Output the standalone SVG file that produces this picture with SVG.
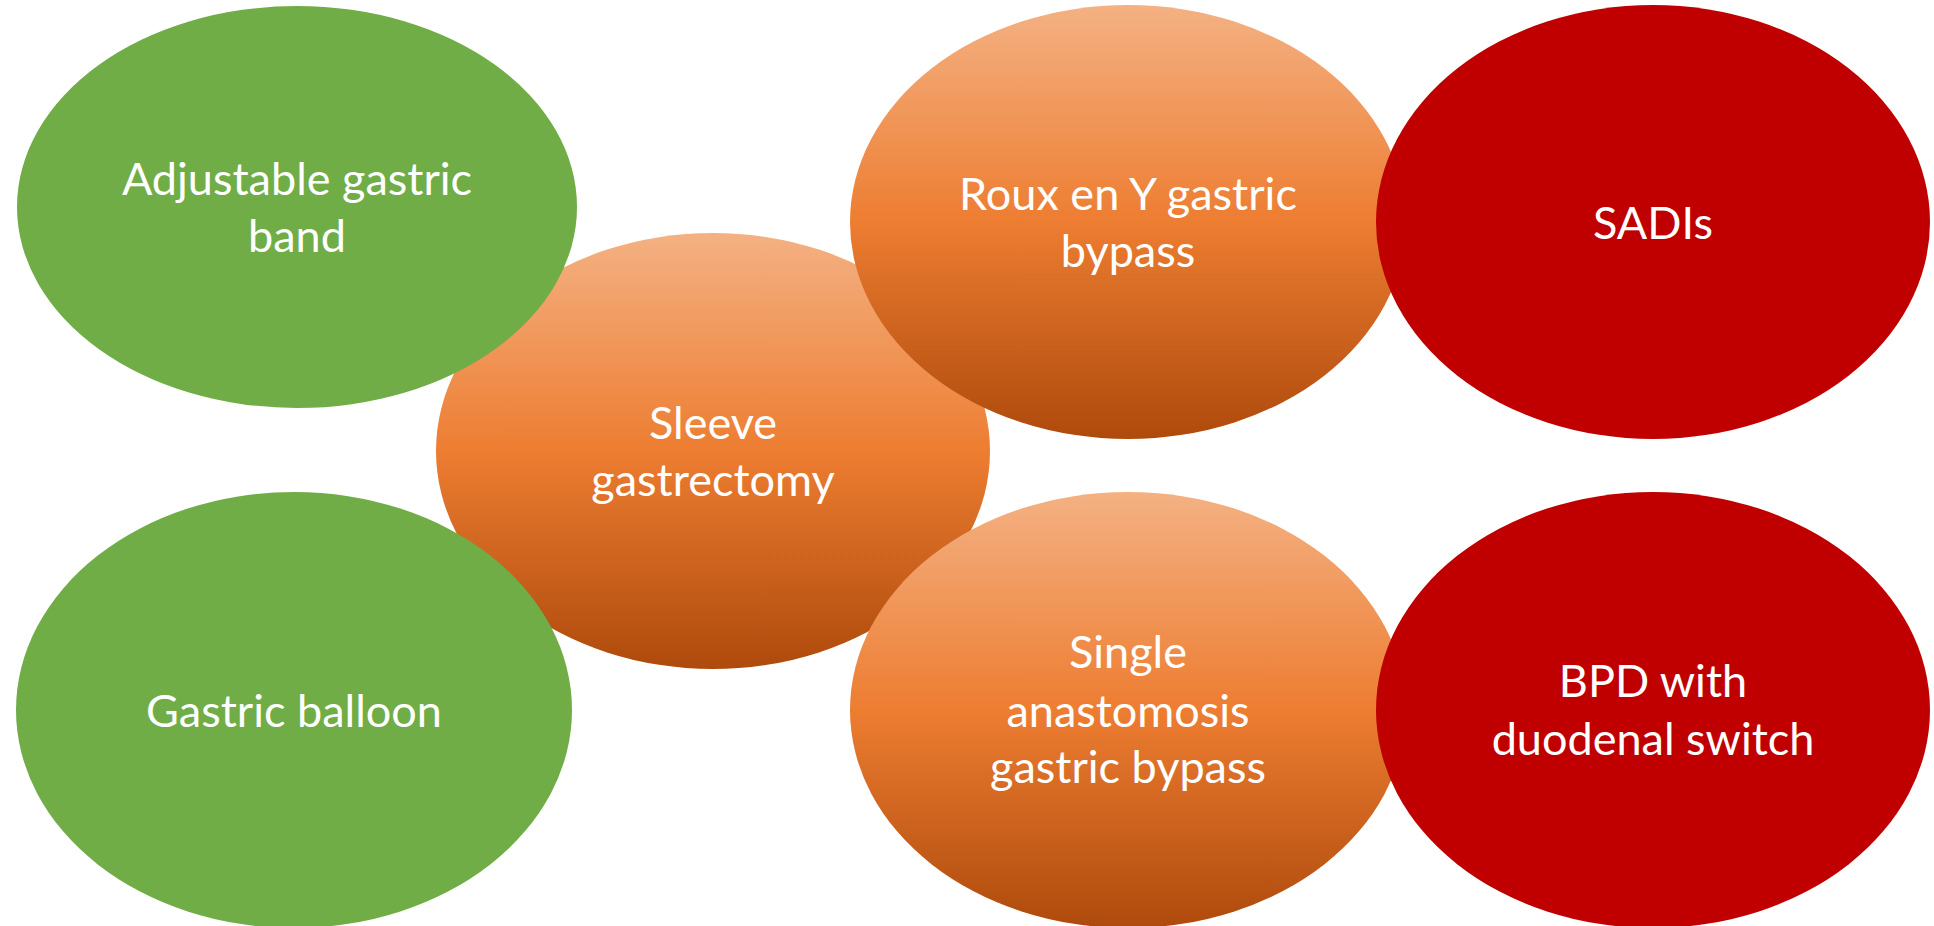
<svg xmlns="http://www.w3.org/2000/svg" width="1934" height="926" viewBox="0 0 1934 926">
<style>
.green{fill:#70AD47}
.red{fill:#C00000}
.orange{fill:url(#og)}
text{font-family:Lato,"Open Sans","Liberation Sans",sans-serif;font-size:45px;fill:#FFFFFF;text-anchor:middle}
</style>
<defs>
<linearGradient id="og" x1="0" y1="0" x2="0" y2="1">
<stop offset="0" stop-color="#F4B183"/>
<stop offset="0.5" stop-color="#ED7D31"/>
<stop offset="1" stop-color="#AE4A0C"/>
</linearGradient>
</defs>
<rect width="1934" height="926" fill="#FFFFFF"/>
<g id="connectors"></g>
<g id="sleeve">
<ellipse class="orange" cx="713" cy="451" rx="277" ry="218"/>
<text x="713" y="439">Sleeve</text>
<text x="713" y="496">gastrectomy</text>
</g>
<g id="band">
<ellipse class="green" cx="297" cy="207" rx="280" ry="201"/>
<text x="297" y="195">Adjustable gastric</text>
<text x="297" y="252">band</text>
</g>
<g id="balloon">
<ellipse class="green" cx="294" cy="710" rx="278" ry="218"/>
<text x="294" y="727">Gastric balloon</text>
</g>
<g id="rygb">
<ellipse class="orange" cx="1128" cy="222" rx="278" ry="217"/>
<text x="1128" y="210">Roux en Y gastric</text>
<text x="1128" y="267">bypass</text>
</g>
<g id="sagb">
<ellipse class="orange" cx="1128" cy="710" rx="278" ry="218"/>
<text x="1128" y="668">Single</text>
<text x="1128" y="727">anastomosis</text>
<text x="1128" y="783">gastric bypass</text>
</g>
<g id="sadis">
<ellipse class="red" cx="1653" cy="222" rx="277" ry="217"/>
<text x="1653" y="239">SADIs</text>
</g>
<g id="bpd">
<ellipse class="red" cx="1653" cy="710" rx="277" ry="218"/>
<text x="1653" y="697">BPD with</text>
<text x="1653" y="755">duodenal switch</text>
</g>
</svg>
